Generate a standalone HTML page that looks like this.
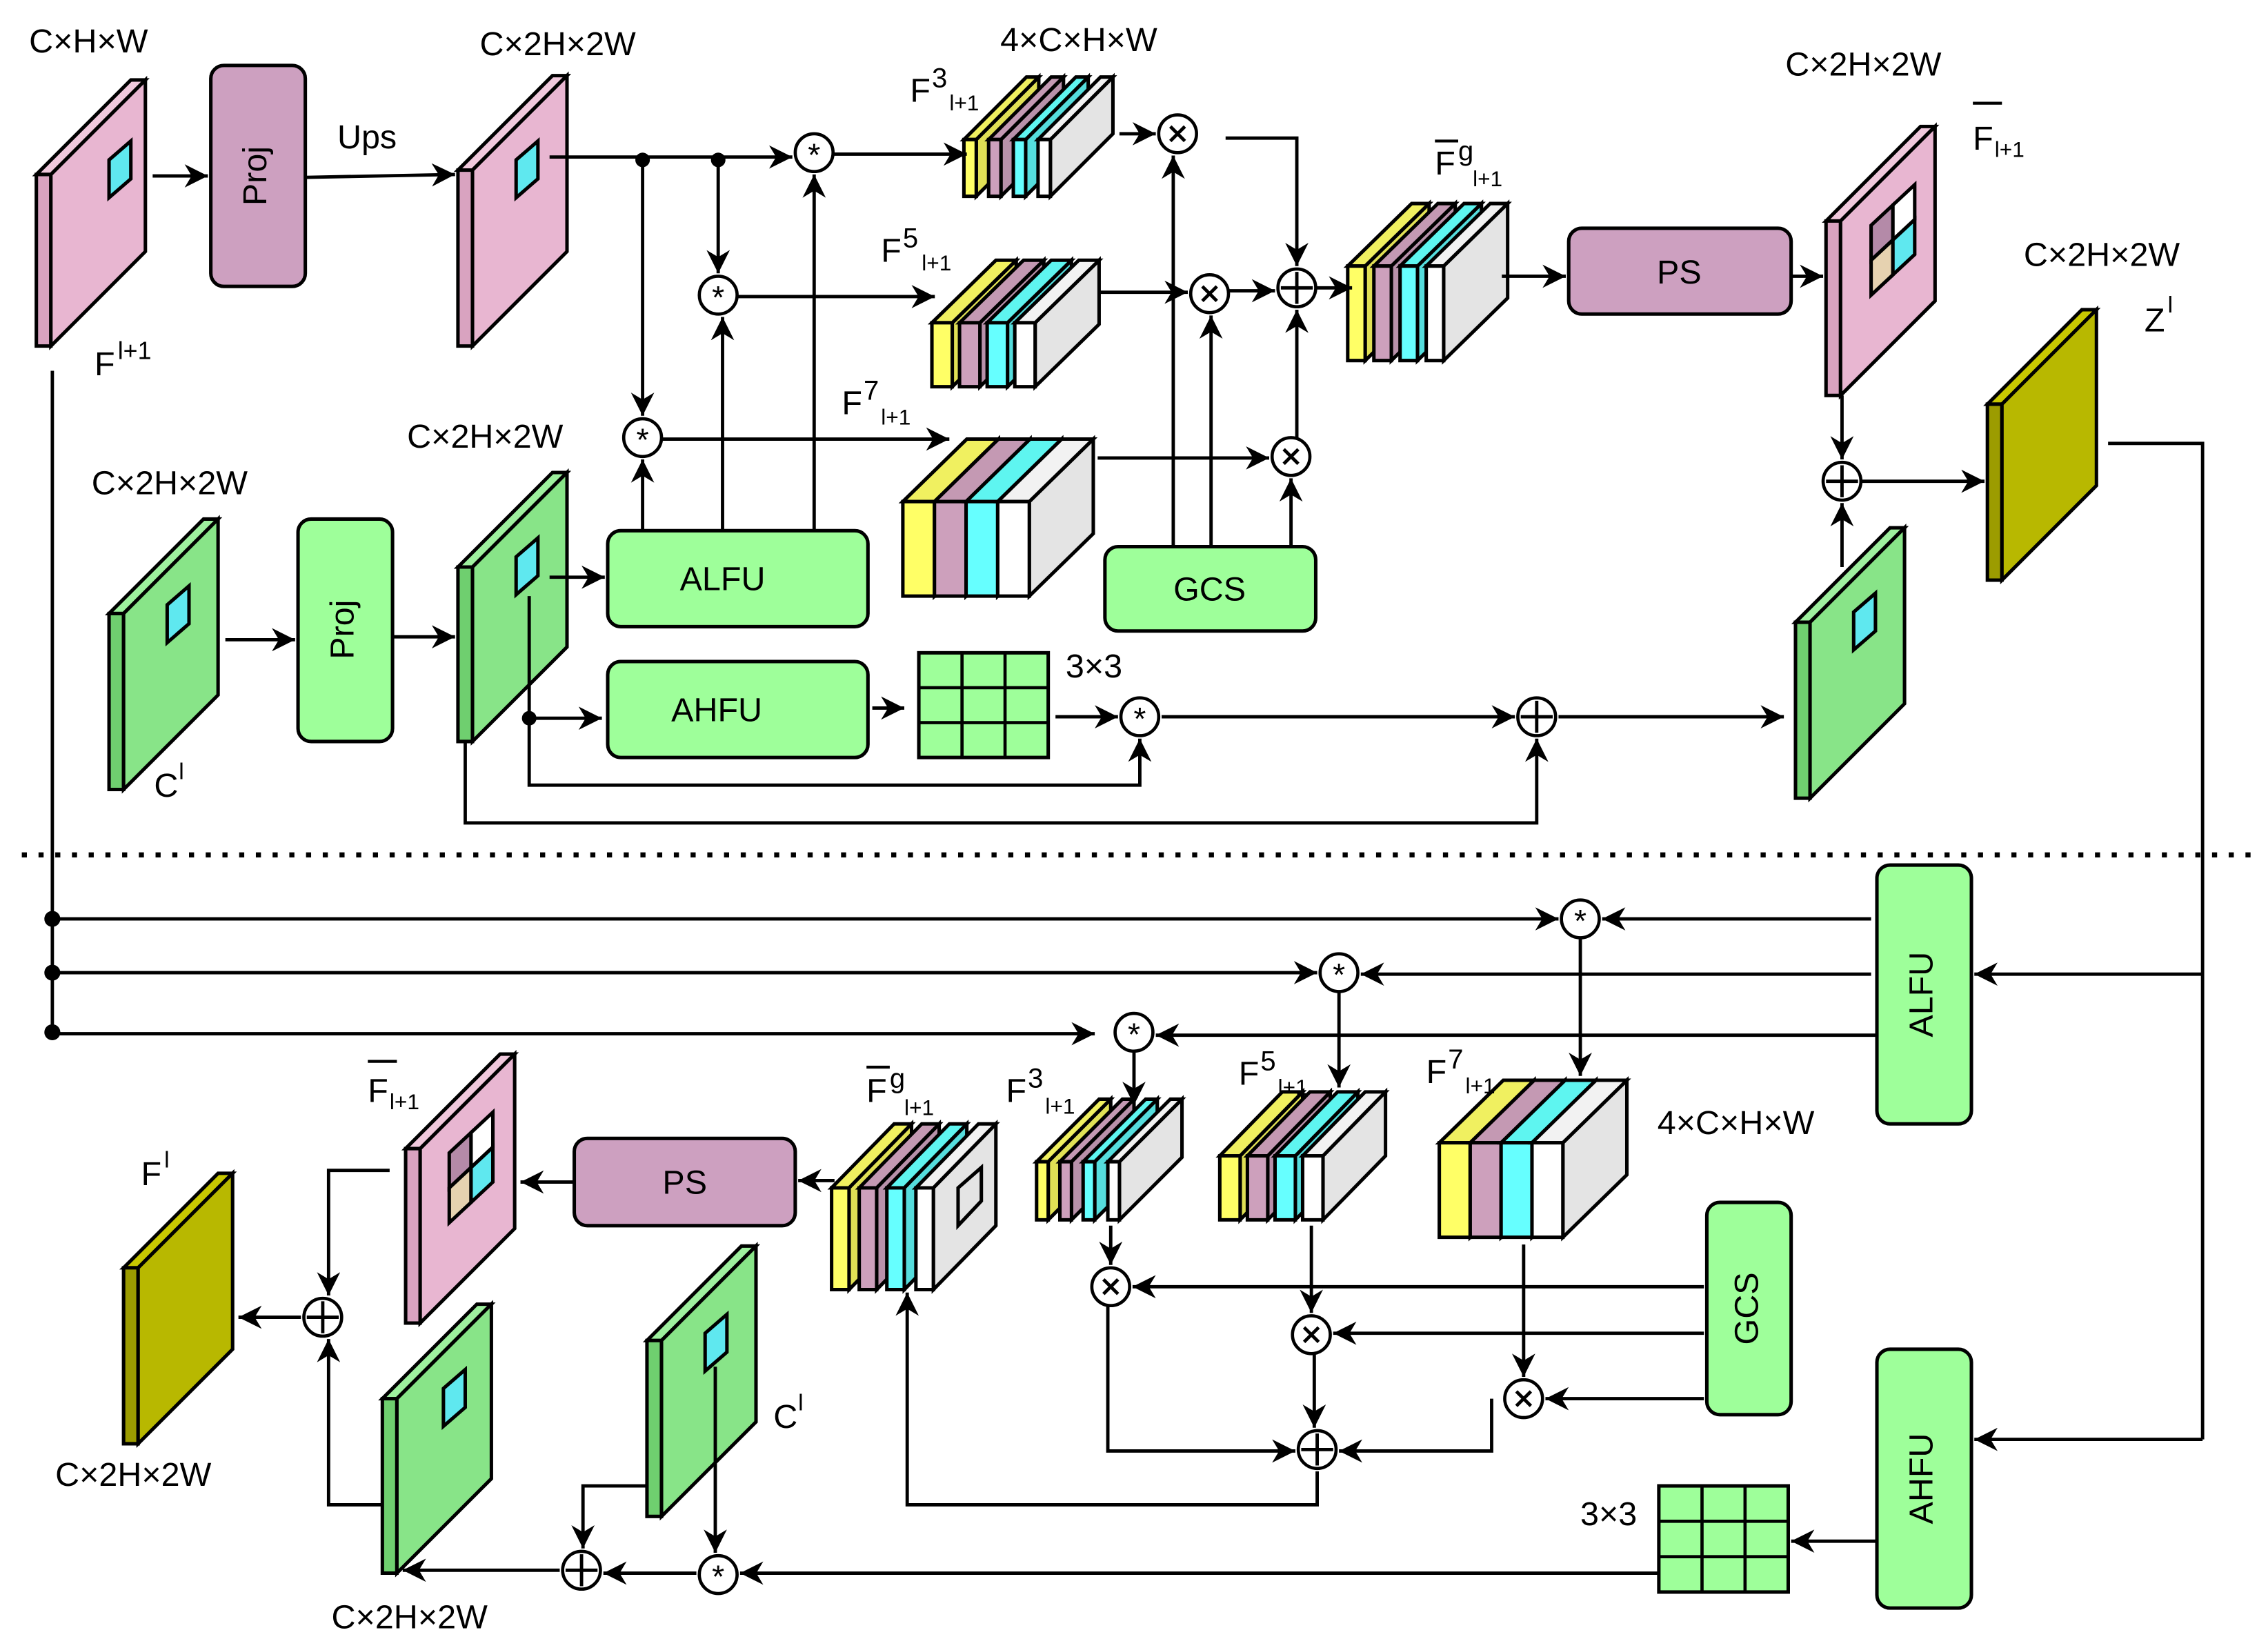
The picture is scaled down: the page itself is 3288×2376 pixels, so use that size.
<!DOCTYPE html>
<html><head><meta charset="utf-8"><style>
html,body{margin:0;padding:0;background:#fff}
svg{display:block}
text{font-family:"Liberation Sans",Arial,sans-serif;fill:#000}
.l{stroke:#000;stroke-width:2.3;fill:none}
.a{stroke:#000;stroke-width:2.3;fill:none;marker-end:url(#ar)}
.bx{stroke:#000;stroke-width:2.4}
.op{fill:#fff;stroke:#000;stroke-width:2.2}
</style></head><body>
<svg id="s" width="3288" height="2376" viewBox="0 0 1560 1127.3" xmlns="http://www.w3.org/2000/svg">
<defs><marker id="ar" viewBox="0 0 10 10" refX="10" refY="5" markerWidth="20" markerHeight="16" markerUnits="userSpaceOnUse" orient="auto"><path d="M0,0L10,5L0,10L3,5z" fill="#000"/></marker></defs>

<g id="plates"></g>
<g id="stacks"></g>

<g class="bx">
<rect x="145" y="45" width="65" height="152" rx="9" fill="#cda0c0"/>
<rect x="205" y="357" width="65" height="153" rx="9" fill="#9eff9a"/>
<rect x="418" y="365" width="179" height="66" rx="9" fill="#9eff9a"/>
<rect x="418" y="455" width="179" height="66" rx="9" fill="#9eff9a"/>
<rect x="760" y="376" width="145" height="58" rx="9" fill="#9eff9a"/>
<rect x="1079" y="157" width="153" height="59" rx="9" fill="#cda0c0"/>
<rect x="1291" y="595" width="65" height="178" rx="9" fill="#9eff9a"/>
<rect x="1174" y="827" width="58" height="146" rx="9" fill="#9eff9a"/>
<rect x="1291" y="928" width="65" height="178" rx="9" fill="#9eff9a"/>
<rect x="395" y="783" width="152" height="60" rx="9" fill="#cda0c0"/>
</g>
<g class="bx" fill="#9eff9a">
<rect x="632" y="449" width="89" height="72"/>
<rect x="1141" y="1022" width="89" height="73"/>
</g>
<g class="l" style="stroke-width:2.2">
<path d="M661.7,449V521M691.3,449V521M632,473H721M632,497H721"/>
<path d="M1170.7,1022V1095M1200.3,1022V1095M1141,1046.3H1230M1141,1070.7H1230"/>
</g>
<g font-size="23" text-anchor="middle">
<text x="177" y="121" transform="rotate(-90 177 121)" dominant-baseline="middle">Proj</text>
<text x="237" y="433" transform="rotate(-90 237 433)" dominant-baseline="middle">Proj</text>
<text x="497" y="406">ALFU</text>
<text x="493" y="496">AHFU</text>
<text x="832" y="413">GCS</text>
<text x="1155" y="195">PS</text>
<text x="471" y="821">PS</text>
<text x="1323" y="684" transform="rotate(-90 1323 684)" dominant-baseline="middle">ALFU</text>
<text x="1203" y="900" transform="rotate(-90 1203 900)" dominant-baseline="middle">GCS</text>
<text x="1323" y="1017" transform="rotate(-90 1323 1017)" dominant-baseline="middle">AHFU</text>
</g>

<line x1="15" y1="588" x2="1552" y2="588" stroke="#000" stroke-width="3.5" stroke-dasharray="3.5 8"/>

<path class="a" d="M105,121H143"/>
<path class="a" d="M210,122L313,120"/>
<path class="a" d="M378,108H545"/>
<path class="a" d="M442,110V286"/>
<path class="a" d="M494,110V188"/>
<path class="a" d="M573,106H665"/>
<path class="a" d="M770,92H795"/>
<path class="a" d="M843,95H892V183"/>
<path class="a" d="M507,204H643"/>
<path class="a" d="M755,201H817"/>
<path class="a" d="M845,200H877"/>
<path class="a" d="M905,198H930"/>
<path class="a" d="M455,302H653"/>
<path class="a" d="M755,315H873"/>
<path class="a" d="M892,301V213"/>
<path class="a" d="M807,376V107"/>
<path class="a" d="M833,376V217"/>
<path class="a" d="M888,376V329"/>
<path class="a" d="M442,365V316"/>
<path class="a" d="M497,365V218"/>
<path class="a" d="M560,365V120"/>
<path class="a" d="M1033,190H1077"/>
<path class="a" d="M1232,190H1254"/>
<path class="a" d="M1267,272V316"/>
<path class="a" d="M1280,331H1365"/>
<path class="a" d="M1267,390V346"/>
<path class="a" d="M155,440H203"/>
<path class="a" d="M270,438H313"/>
<path class="a" d="M378,397H416"/>
<path class="a" d="M364,494H414"/>
<path class="a" d="M364,410V540H784V508"/>
<path class="a" d="M600,487H622"/>
<path class="a" d="M726,493H769"/>
<path class="a" d="M799,493H1042"/>
<path class="a" d="M1072,493H1227"/>
<path class="a" d="M320,510V566H1057V508"/>
<path class="l" d="M1450,305H1515V990"/>
<path class="a" d="M1515,990H1358"/>
<path class="a" d="M1515,670H1358"/>
<path class="l" d="M36,255V712"/>
<path class="a" d="M36,632H1072"/>
<path class="a" d="M36,669H906"/>
<path class="a" d="M36,711H753"/>
<path class="a" d="M1287,632H1102"/>
<path class="a" d="M1287,670H936"/>
<path class="a" d="M1291,712H795"/>
<path class="a" d="M1087,645V740"/>
<path class="a" d="M921,682V748"/>
<path class="a" d="M780,723V760"/>
<path class="a" d="M764,843V870"/>
<path class="a" d="M902,843V903"/>
<path class="a" d="M1048,856V947"/>
<path class="a" d="M1172,885H779"/>
<path class="a" d="M1172,917H917"/>
<path class="a" d="M1172,962H1063"/>
<path class="a" d="M762,898V998H891"/>
<path class="a" d="M904,931V982"/>
<path class="a" d="M1026,962V998H921"/>
<path class="a" d="M906,1012V1035H624V889"/>
<path class="a" d="M574,812H549"/>
<path class="a" d="M395,813H358"/>
<path class="a" d="M268,805H226V891"/>
<path class="a" d="M207,906H164"/>
<path class="a" d="M263,1035H226V921"/>
<path class="a" d="M445,1022H401V1065"/>
<path class="a" d="M492,940V1068"/>
<path class="a" d="M479,1082H415"/>
<path class="a" d="M385,1080H277"/>
<path class="a" d="M1140,1082H509"/>
<path class="a" d="M1290,1060H1232"/>
<g fill="#000">
<circle cx="442" cy="110" r="5"/><circle cx="494" cy="110" r="5"/><circle cx="364" cy="494" r="5"/>
<circle cx="36" cy="632" r="5.5"/><circle cx="36" cy="669" r="5.5"/><circle cx="36" cy="710" r="5.5"/>
</g>

<g id="ops"></g>

<g font-size="23">
<text x="20" y="36">C×H×W</text>
<text x="330" y="38">C×2H×2W</text>
<text x="232" y="102">Ups</text>
<text x="688" y="35">4×C×H×W</text>
<text x="280" y="308">C×2H×2W</text>
<text x="63" y="340">C×2H×2W</text>
<text x="1228" y="52">C×2H×2W</text>
<text x="1392" y="183">C×2H×2W</text>
<text x="733" y="466">3×3</text>
<text x="38" y="1022">C×2H×2W</text>
<text x="228" y="1120">C×2H×2W</text>
<text x="1140" y="780">4×C×H×W</text>
<text x="1087" y="1049">3×3</text>
</g>
<g font-size="23">
<text x="65" y="258">F</text><text x="81" y="247" font-size="17">l+1</text>
<text x="106" y="548">C</text><text x="123" y="536" font-size="16">l</text>
<text x="626" y="70">F</text><text x="641" y="60" font-size="19">3</text><text x="653" y="76" font-size="15">l+1</text>
<text x="606" y="180">F</text><text x="621" y="170" font-size="19">5</text><text x="634" y="186" font-size="15">l+1</text>
<text x="579" y="285">F</text><text x="594" y="275" font-size="19">7</text><text x="606" y="292" font-size="15">l+1</text>
<text x="987" y="120">F</text><text x="1003" y="110" font-size="19">g</text><text x="1013" y="128" font-size="15">l+1</text>
<line x1="987" y1="97" x2="1003" y2="97" stroke="#000" stroke-width="2"/>
<text x="1357" y="103">F</text><text x="1372" y="108" font-size="15">l+1</text>
<line x1="1357" y1="71" x2="1377" y2="71" stroke="#000" stroke-width="2"/>
<text x="1475" y="228">Z</text><text x="1491" y="215" font-size="16">l</text>
<text x="253" y="758">F</text><text x="268" y="763" font-size="15">l+1</text>
<line x1="253" y1="730" x2="273" y2="730" stroke="#000" stroke-width="2"/>
<text x="97" y="815">F</text><text x="113" y="803" font-size="16">l</text>
<text x="532" y="982">C</text><text x="549" y="970" font-size="16">l</text>
<text x="596" y="758">F</text><text x="612" y="748" font-size="19">g</text><text x="622" y="767" font-size="15">l+1</text>
<line x1="596" y1="734" x2="612" y2="734" stroke="#000" stroke-width="2"/>
<text x="692" y="758">F</text><text x="707" y="748" font-size="19">3</text><text x="719" y="766" font-size="15">l+1</text>
<text x="852" y="746">F</text><text x="867" y="736" font-size="19">5</text><text x="879" y="753" font-size="15">l+1</text>
<text x="981" y="745">F</text><text x="996" y="735" font-size="19">7</text><text x="1008" y="752" font-size="15">l+1</text>
</g>

<script>
var NS="http://www.w3.org/2000/svg";
function el(p,t,a){var e=document.createElementNS(NS,t);for(var k in a)e.setAttribute(k,a[k]);p.appendChild(e);return e;}
var P=document.getElementById("plates"),S=document.getElementById("stacks"),O=document.getElementById("ops");
function poly(p,pts,f){return el(p,"polygon",{points:pts.join(" "),fill:f,stroke:"#000","stroke-width":"2.4","stroke-linejoin":"miter"});}
function plate(x,T,B,face,strip,top){
 poly(P,[x,T+65,x+65,T,x+75,T,x+10,T+65],top);
 poly(P,[x,T+65,x+10,T+65,x+10,B,x,B],strip);
 poly(P,[x+10,T+65,x+75,T,x+75,B-65,x+10,B],face);
}
var PK=["#e8b6d1","#d9a3c0","#f0c8dc"],GR=["#88e488","#6fcf6f","#9ef09e"],OL=["#b8b800","#9c9c00","#c8c800"];
plate(25,55,238,PK[0],PK[1],PK[2]);
plate(315,52,238,PK[0],PK[1],PK[2]);
plate(75,357,543,GR[0],GR[1],GR[2]);
plate(315,325,510,GR[0],GR[1],GR[2]);
plate(1235,363,549,GR[0],GR[1],GR[2]);
plate(1367,213,399,OL[0],OL[1],OL[2]);
plate(1256,87,272,PK[0],PK[1],PK[2]);
plate(279,725,910,PK[0],PK[1],PK[2]);
plate(85,807,993,OL[0],OL[1],OL[2]);
plate(263,897,1082,GR[0],GR[1],GR[2]);
plate(445,857,1043,GR[0],GR[1],GR[2]);
function sq(x,y){poly(P,[x,y+13,x+15,y,x+15,y+26,x,y+39],"#5fe8ef");}
sq(75,97);sq(355,97);sq(115,403);sq(355,370);sq(1275,408);sq(305,942);sq(485,904);
function g4(x,y){var w=15,d=14,h=24;
 poly(P,[x,y+d,x+w,y,x+w,y+h,x,y+h+d],"#b48aa8");
 poly(P,[x+w,y,x+2*w,y-d,x+2*w,y+h-d,x+w,y+h],"#ffffff");
 poly(P,[x,y+h+d,x+w,y+h,x+w,y+2*h,x,y+2*h+d],"#e6d2b0");
 poly(P,[x+w,y+h,x+2*w,y+h-d,x+2*w,y+2*h-d,x+w,y+2*h],"#5fe8ef");}
g4(1287,141);g4(309,779);
var C={Y:["#ffff66","#f0f060","#e0e055"],P:["#cda0bc","#c499b3","#b891aa"],C:["#66ffff","#5ef5f0","#55dddd"],W:["#ffffff","#f2f2f2","#e4e4e4"]};
function slab(a,y0,w,h,dx,dy,c,last){
 poly(S,[a+w,y0,a+w+dx,y0-dy,a+w+dx,y0-dy+h,a+w,y0+h],last?"#e4e4e4":c[2]);
 poly(S,[a,y0,a+w,y0,a+w+dx,y0-dy,a+dx,y0-dy],c[1]);
 poly(S,[a,y0,a+w,y0,a+w,y0+h,a,y0+h],c[0]);
}
function stack(xs,w,y0,h,dx,dy){var k=["Y","P","C","W"];for(var i=0;i<4;i++)slab(xs[i],y0,w,h,dx,dy,C[k[i]],i==3);}
stack([663,680,697,714],8.5,96,39,43,43);
stack([641,660,679,698],14,222,44,44,43);
stack([621,642.75,664.5,686.25],21.75,345,65,44,43);
stack([927,945,963,981],12,183,65,44,43);
stack([572,591,610,630],12,817,70,43,44);
poly(S,[659,843,659,817,675,803,675,826],"#e4e4e4");
stack([713,729,745,762],8,799,40,43,43);
stack([839,858,877,896],14,795,44,43,44);
stack([990,1011.25,1032.5,1053.75],21.25,786,65,44,43);
function op(x,y,t){el(O,"circle",{cx:x,cy:y,r:13,class:"op"});
 if(t=="*"){var e=el(O,"text",{x:x,y:y+9,"font-size":"22","text-anchor":"middle"});e.textContent="*";}
 else if(t=="x"){el(O,"path",{d:"M"+(x-5)+","+(y-5)+"L"+(x+5)+","+(y+5)+"M"+(x+5)+","+(y-5)+"L"+(x-5)+","+(y+5),class:"l"});}
 else {el(O,"path",{d:"M"+(x-11)+","+y+"H"+(x+11)+"M"+x+","+(y-11)+"V"+(y+11),class:"l"});}}
op(560,105,"*");op(810,92,"x");op(494,203,"*");op(832,202,"x");op(892,198,"+");op(442,301,"*");op(888,314,"x");
op(1267,331,"+");op(784,493,"*");op(1057,493,"+");
op(1087,632,"*");op(921,669,"*");op(780,710,"*");op(764,885,"x");op(902,918,"x");op(1048,962,"x");
op(906,997,"+");op(222,906,"+");op(400,1080,"+");op(494,1083,"*");
</script>
</svg>
</body></html>
